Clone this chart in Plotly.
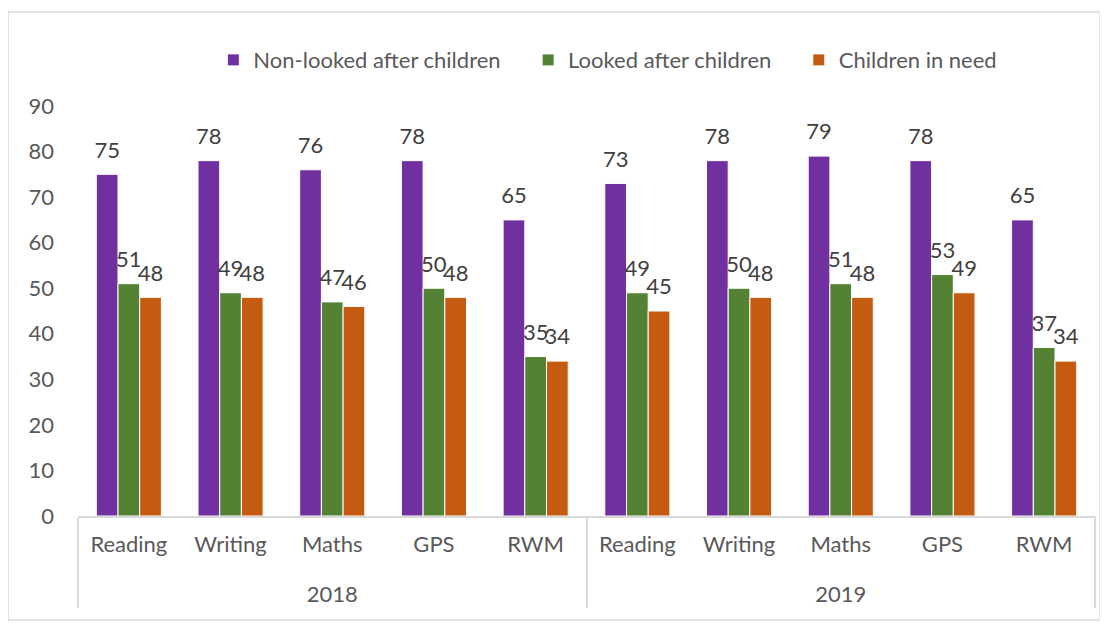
import plotly.graph_objects as go

years = ["2018"] * 5 + ["2019"] * 5
subjects = ["Reading", "Writing", "Maths", "GPS", "RWM"] * 2

non_looked_after = [75, 78, 76, 78, 65, 73, 78, 79, 78, 65]
looked_after = [51, 49, 47, 50, 35, 49, 50, 51, 53, 37]
children_in_need = [48, 48, 46, 48, 34, 45, 48, 48, 49, 34]

nb = "\u00a0"
series = [
    ("Non-looked after children" + nb * 4, non_looked_after, "#7030A0"),
    ("Looked after children" + nb * 4, looked_after, "#548235"),
    ("Children in need", children_in_need, "#C55A11"),
]

font = "Lato, 'Noto Sans', sans-serif"
grey = "#595959"
fs = 22

# empty first line pushes the year row further below the subject row
year_labels = ["<br>" + y for y in years]

fig = go.Figure()
for name, vals, col in series:
    fig.add_trace(go.Bar(
        x=[year_labels, subjects], y=vals, name=name,
        marker=dict(color=col, line=dict(color="white", width=1)),
        # small base font so the empty second line just lifts the number a bit
        text=[f"<span style='font-size:{fs}px'>{v}</span><br> " for v in vals],
        textposition="outside", constraintext="none", cliponaxis=False,
        textfont=dict(size=9, color="#404040", family=font),
    ))

# light border round the whole chart, like the Excel chart area
fig.add_shape(type="rect", xref="paper", yref="paper",
              x0=-0.0688, x1=1.005, y0=-0.2537, y1=1.229,
              line=dict(color="#d9d9d9", width=1.5))
# closing divider at the right end of the category axis
fig.add_shape(type="line", xref="paper", yref="paper",
              x0=1, x1=1, y0=0, y1=-0.224,
              line=dict(color="#d9d9d9", width=1.5))

fig.update_layout(
    width=1092, height=614,
    margin=dict(l=70, r=5, t=98, b=106),
    plot_bgcolor="white", paper_bgcolor="white",
    barmode="group", bargap=0.36, bargroupgap=0,
    font=dict(family=font, color=grey, size=fs),
    legend=dict(orientation="h", x=0.521, xanchor="center", y=1.112,
                yanchor="middle", font=dict(size=fs, color=grey),
                itemwidth=30),
    showlegend=True,
)
fig.update_xaxes(type="multicategory", showline=True, linecolor="#d9d9d9",
                 linewidth=1.5, showdividers=True, dividercolor="#d9d9d9",
                 dividerwidth=1.5, tickfont=dict(size=fs, color=grey),
                 ticks="", ticklabelstandoff=8, automargin=False)
fig.update_yaxes(range=[0, 90], dtick=10, showgrid=False, zeroline=False,
                 showline=False, tickfont=dict(size=fs, color=grey),
                 ticklabelstandoff=23, automargin=False)

fig.write_html("out.html")
